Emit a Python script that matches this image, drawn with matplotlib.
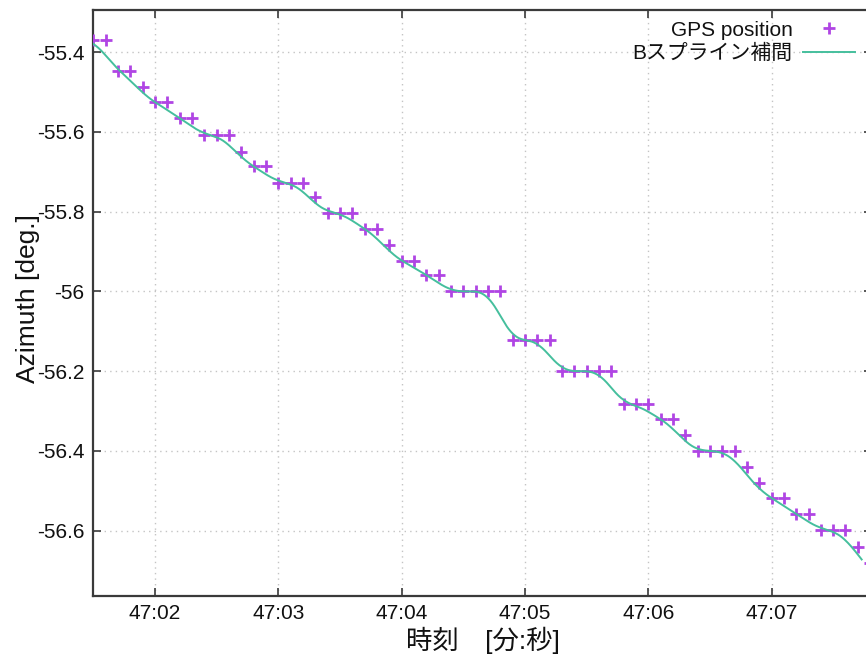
import numpy as np
import matplotlib
matplotlib.use("Agg")
import matplotlib.pyplot as plt
from matplotlib.ticker import FixedLocator, FuncFormatter

plt.rcParams["font.family"] = ["Liberation Sans", "Noto Sans CJK JP"]

# 10 Hz GPS azimuth samples, seconds after 47:00
t_start = 1.5
t_step = 0.1
azimuth = [
    -55.369, -55.369, -55.447, -55.447, -55.487, -55.525, -55.525, -55.565,
    -55.565, -55.608, -55.608, -55.608, -55.649, -55.686, -55.686, -55.727,
    -55.727, -55.727, -55.764, -55.802, -55.802, -55.802, -55.843, -55.843,
    -55.883, -55.923, -55.923, -55.958, -55.958, -56.000, -56.000, -56.000,
    -56.000, -56.000, -56.122, -56.122, -56.122, -56.122, -56.200, -56.200,
    -56.200, -56.200, -56.200, -56.283, -56.283, -56.283, -56.320, -56.320,
    -56.360, -56.400, -56.400, -56.400, -56.400, -56.440, -56.480, -56.518,
    -56.518, -56.558, -56.558, -56.598, -56.598, -56.598, -56.640, -56.680,
]
spline_lead = 0.05  # curve drawn slightly ahead of the raw fixes

x_ticks = [2, 3, 4, 5, 6, 7]
y_ticks = [-55.4, -55.6, -55.8, -56.0, -56.2, -56.4, -56.6]
x_range = (1.497, 7.815)
y_range = (-56.764, -55.294)

gps_color = "#b045e4"
spline_color = "#45bf9d"
frame_color = "#3a3a3a"


def cubic_bspline(px, py, n=24):
    # uniform cubic B-spline using the samples as control points
    px = np.r_[px[0], px, px[-1]]
    py = np.r_[py[0], py, py[-1]]
    u = np.linspace(0, 1, n, endpoint=False)
    b = np.vstack([
        (1 - u) ** 3,
        3 * u ** 3 - 6 * u ** 2 + 4,
        -3 * u ** 3 + 3 * u ** 2 + 3 * u + 1,
        u ** 3,
    ]) / 6.0
    xs, ys = [], []
    for i in range(1, len(px) - 2):
        xs.append(b.T @ px[i - 1:i + 3])
        ys.append(b.T @ py[i - 1:i + 3])
    return np.concatenate(xs), np.concatenate(ys)


def smooth121(v):
    # light [1, 2, 1] pre-filter on the control points
    p = np.r_[2 * v[0] - v[1], v, 2 * v[-1] - v[-2]]
    return np.convolve(p, [0.25, 0.5, 0.25], mode="valid")


t = t_start + t_step * np.arange(len(azimuth))
ctrl = smooth121(np.array(azimuth))
sx, sy = cubic_bspline(t, ctrl)
sx = sx - spline_lead

fig = plt.figure(figsize=(8.66, 6.63), dpi=100)
ax = fig.add_axes([93 / 866, 67 / 663, 779 / 866, 586 / 663])

ax.plot(t, azimuth, linestyle="none", marker="+", markersize=8,
        markeredgewidth=2.0, color=gps_color, label="GPS position", zorder=3)
ax.plot(sx, sy, color=spline_color, linewidth=1.4,
        label="Bスプライン補間", zorder=4)

ax.set_xlim(*x_range)
ax.set_ylim(*y_range)
ax.xaxis.set_major_locator(FixedLocator(x_ticks))
ax.yaxis.set_major_locator(FixedLocator(y_ticks))
ax.xaxis.set_major_formatter(FuncFormatter(lambda v, p: "47:%02d" % round(v)))
ax.yaxis.set_major_formatter(FuncFormatter(lambda v, p: "%g" % round(v, 1)))

ax.grid(True, color="#c4c4c4", linestyle=(0, (1, 3)), linewidth=1.0)
ax.set_axisbelow(True)

for side in ["left", "bottom", "top", "right"]:
    ax.spines[side].set_color(frame_color)
    ax.spines[side].set_linewidth(1.6)
ax.tick_params(direction="in", length=6, width=1.2, color=frame_color,
               top=True, right=True, labelsize=15, pad=6,
               labelcolor="#111111")

ax.set_xlabel("時刻\u3000[分:秒]", fontsize=19, color="#111111")
ax.set_ylabel("Azimuth [deg.]", fontsize=19, color="#111111")
ax.xaxis.set_label_coords(0.5, -0.052)
ax.yaxis.set_label_coords(-0.068, 0.508)

leg = ax.legend(loc="upper right", bbox_to_anchor=(855 / 866, 0.969),
                bbox_transform=fig.transFigure, frameon=False,
                markerfirst=False, fontsize=15, handlelength=2.5,
                handletextpad=0.5, labelspacing=0.2, borderpad=0,
                borderaxespad=0)
for txt in leg.get_texts():
    txt.set_color("#111111")

fig.savefig("out.png", dpi=100)
